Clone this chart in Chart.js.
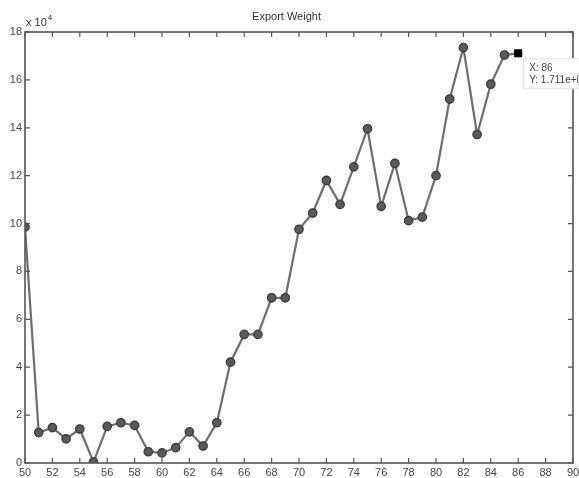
<!DOCTYPE html>
<html>
<head>
<meta charset="utf-8">
<script src="https://cdn.jsdelivr.net/npm/chart.js@4/dist/chart.umd.min.js"></script>
<style>
html,body{margin:0;padding:0;background:#fff;}
#wrap{width:579px;height:478px;}
</style>
</head>
<body>
<div id="wrap"><canvas id="c" width="579" height="478"></canvas></div>
<script>
const years = [50,51,52,53,54,55,56,57,58,59,60,61,62,63,64,65,66,67,68,69,70,71,72,73,74,75,76,77,78,79,80,81,82,83,84,85,86];
const weights = [98500,12700,14800,10100,14200,400,15300,16800,15700,4700,4200,6400,13000,7100,16800,42100,53700,53700,69000,69000,97600,104400,118000,108000,123700,139600,107200,125100,101200,102700,120000,152000,173500,137200,158200,170400,171100];
const cursorX = [86];
const cursorY = [171100];
const xTicks = [50,52,54,56,58,60,62,64,66,68,70,72,74,76,78,80,82,84,86,88,90];
const yTicks = [0,2,4,6,8,10,12,14,16,18];
const chartTitle = 'Export Weight';
const yExponent = '4';

const seriesPts = years.map((x,i)=>({x:x,y:weights[i]}));
const cursorPts = cursorX.map((x,i)=>({x:x,y:cursorY[i]}));

const frame = {
  id:'frame',
  afterDraw(chart){
    const ctx = chart.ctx, a = chart.chartArea;
    const xs = chart.scales.x, ys = chart.scales.y;
    ctx.save();
    ctx.strokeStyle = '#555';
    ctx.lineWidth = 1.6;
    ctx.strokeRect(a.left, a.top, a.right - a.left, a.bottom - a.top);
    ctx.lineWidth = 1.2;
    const tl = 5;
    ctx.beginPath();
    xTicks.forEach(v=>{
      const px = xs.getPixelForValue(v);
      ctx.moveTo(px, a.bottom); ctx.lineTo(px, a.bottom - tl);
      ctx.moveTo(px, a.top); ctx.lineTo(px, a.top + tl);
    });
    yTicks.forEach(v=>{
      const py = ys.getPixelForValue(v*1e4);
      ctx.moveTo(a.left, py); ctx.lineTo(a.left + tl, py);
      ctx.moveTo(a.right, py); ctx.lineTo(a.right - tl, py);
    });
    ctx.stroke();
    // exponent label
    ctx.fillStyle = '#333';
    ctx.font = '11px "Liberation Sans", Arial, sans-serif';
    ctx.textBaseline = 'alphabetic';
    ctx.textAlign = 'left';
    ctx.fillText('x 10', a.left + 1, a.top - 6);
    const w = ctx.measureText('x 10').width;
    ctx.font = '8px "Liberation Sans", Arial, sans-serif';
    ctx.fillText(yExponent, a.left + 1 + w + 1, a.top - 12);
    // data cursor box
    const px = xs.getPixelForValue(cursorX[0]);
    const py = ys.getPixelForValue(cursorY[0]);
    const bx = px + 5, by = py + 5;
    ctx.fillStyle = '#fff';
    ctx.fillRect(bx, by, 80, 30);
    ctx.strokeStyle = '#ddd';
    ctx.lineWidth = 1;
    ctx.strokeRect(bx + 0.5, by + 0.5, 80, 30);
    ctx.fillStyle = '#444';
    ctx.font = '10px "Liberation Sans", Arial, sans-serif';
    ctx.fillText('X: ' + cursorX[0], bx + 6, by + 13);
    ctx.fillText('Y: ' + cursorY[0].toExponential(3).replace('e+','e+0'), bx + 6, by + 25);
    ctx.restore();
  }
};

new Chart(document.getElementById('c'), {
  type:'scatter',
  data:{
    datasets:[
      {
        data: cursorPts,
        showLine:false,
        pointStyle:'rect',
        pointRadius:5,
        pointBackgroundColor:'#000',
        pointBorderColor:'#000',
        pointBorderWidth:1,
        order:0
      },
      {
        data: seriesPts,
        showLine:true,
        borderColor:'#6e6e6e',
        borderWidth:2.2,
        pointRadius:(c)=> (c.raw && c.raw.x === cursorX[0]) ? 0 : 4.2,
        pointBackgroundColor:'#5a5a5a',
        pointBorderColor:'#3a3a3a',
        pointBorderWidth:1.3,
        order:1
      }
    ]
  },
  options:{
    responsive:false,
    animation:false,
    devicePixelRatio:1,
    layout:{padding:{left:0,right:6,top:0,bottom:0}},
    plugins:{
      legend:{display:false},
      tooltip:{enabled:false},
      title:{
        display:true,
        text:chartTitle,
        color:'#333',
        font:{family:'"Liberation Sans", Arial, sans-serif',size:11,weight:'normal'},
        padding:{top:10,bottom:8.8}
      }
    },
    scales:{
      x:{
        type:'linear',
        min:50,max:90,
        afterBuildTicks(axis){ axis.ticks = xTicks.map(v=>({value:v})); },
        afterFit(axis){ axis.height = 15; axis.paddingLeft = 0; axis.paddingRight = 0; },
        grid:{display:false,drawTicks:false},
        border:{display:false},
        ticks:{
          padding:3,
          color:'#444',
          font:{family:'"Liberation Sans", Arial, sans-serif',size:11},
          maxRotation:0,autoSkip:false
        }
      },
      y:{
        type:'linear',
        min:0,max:180000,
        afterBuildTicks(axis){ axis.ticks = yTicks.map(v=>({value:v*1e4})); },
        afterFit(axis){ axis.width = 25; axis.paddingTop = 0; axis.paddingBottom = 0; },
        grid:{display:false,drawTicks:false},
        border:{display:false},
        ticks:{
          padding:3,
          color:'#444',
          font:{family:'"Liberation Sans", Arial, sans-serif',size:11},
          callback:(v)=>String(v/1e4),
          autoSkip:false
        }
      }
    }
  },
  plugins:[frame]
});
</script>
</body>
</html>
